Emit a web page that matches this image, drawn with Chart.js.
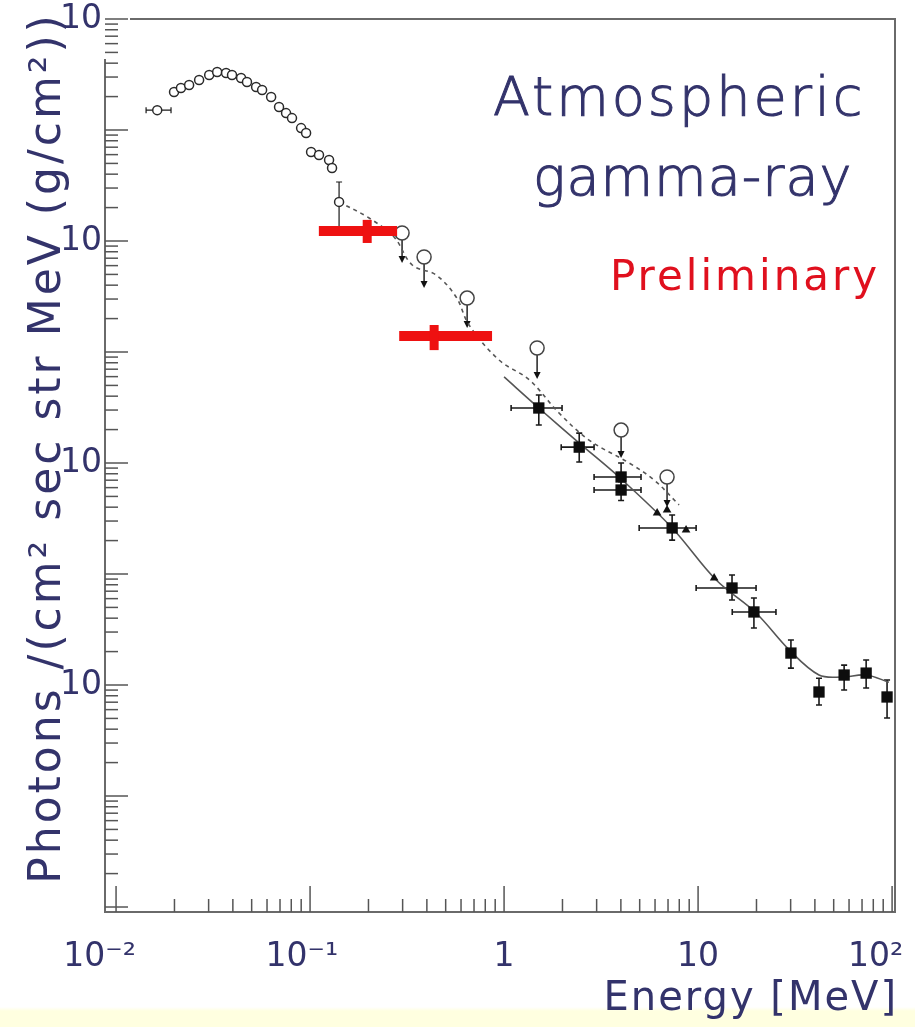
<!DOCTYPE html>
<html>
<head>
<meta charset="utf-8">
<script src="https://cdn.jsdelivr.net/npm/chart.js@4.4.0/dist/chart.umd.min.js"></script>
<style>
  html, body { margin: 0; padding: 0; background: #fff; }
  #wrap { position: relative; width: 915px; height: 1027px;
          background: linear-gradient(to bottom, #fff 0, #fff 1007px, #ffffe0 1011px, #ffffe0 100%); }
  canvas { display: block; }
</style>
</head>
<body>
<div id="wrap"><canvas id="grafico" width="915" height="1027"></canvas></div>
<script>
// ---------- dados ----------
// curva de baixa energia (círculos pequenos)
const lowE = [0.0163, 0.0199, 0.0216, 0.0238, 0.0268, 0.0302, 0.0332, 0.0369, 0.0396, 0.0441, 0.0473, 0.0527,
              0.0566, 0.0630, 0.0692, 0.0752, 0.0807, 0.0899, 0.0954, 0.1012, 0.1112, 0.1253, 0.1298, 0.1411]
const lowF = [1.51, 2.20, 2.39, 2.54, 2.82, 3.13, 3.33, 3.26, 3.13, 2.94, 2.71, 2.44,
              2.29, 1.98, 1.61, 1.42, 1.28, 1.04, 0.94, 0.634, 0.595, 0.537, 0.455, 0.225]
// barras de erro (só os pontos das pontas)
const lowErrE = [[0.01428, 0.0192], null, null, null, null, null, null, null, null, null, null, null,
                 null, null, null, null, null, null, null, null, null, null, null, null]
const lowErrF = [null, null, null, null, null, null, null, null, null, null, null, null,
                 null, null, null, null, null, null, null, null, null, null, null, [0.1205, 0.340]]

// limites superiores (círculos grandes com seta)
const limE = [0.298, 0.387, 0.645, 1.48, 4.01, 6.92]
const limF = [0.118, 0.0718, 0.0306, 0.01086, 1.98e-3, 7.48e-4]
const limArrow = [0.0633, 0.0377, 0.01644, 5.71e-3, 1.11e-3, 4.02e-4]

// pontos preliminares (vermelho)
const redE = [0.197, 0.436]
const redF = [0.123, 0.01394]
const redErrE = [[0.111, 0.281], [0.288, 0.867]]
const redErrF = [[0.096, 0.155], [0.0104, 0.0175]]

// quadrados pretos
const sqE = [1.51, 2.44, 4.01, 4.01, 7.35, 14.96, 19.4, 30.1, 42.0, 56.6, 73.5, 94.2]
const sqF = [3.13e-3, 1.39e-3, 7.48e-4, 5.71e-4, 2.60e-4, 7.48e-5, 4.55e-5, 1.94e-5, 8.65e-6, 1.23e-5, 1.28e-5, 7.80e-6]
const sqErrE = [[1.087, 1.99], [1.97, 2.91], [2.91, 5.08], [2.91, 5.08], [4.97, 9.77], [9.77, 19.9],
                [15.0, 25.2], null, null, null, null, null]
const sqErrF = [[2.20e-3, 4.10e-3], [1.02e-3, 1.86e-3], [6.2e-4, 1.0e-3], [4.6e-4, 6.8e-4], [2.02e-4, 3.40e-4],
                [5.83e-5, 9.80e-5], [3.26e-5, 6.08e-5], [1.42e-5, 2.54e-5], [6.61e-6, 1.15e-5],
                [9.02e-6, 1.51e-5], [9.40e-6, 1.68e-5], [5.04e-6, 1.11e-5]]

// triângulos
const triE = [6.15, 6.92, 8.67, 12.1]
const triF = [3.55e-4, 3.77e-4, 2.49e-4, 9.2e-5]

// curva tracejada e curva contínua
const dashE = [0.1411, 0.2015, 0.271, 0.336, 0.446, 0.566, 0.660, 0.942, 1.35, 1.92, 2.74, 4.41, 5.93, 7.98]
const dashF = [0.225, 0.161, 0.1087, 0.0608, 0.0494, 0.0313, 0.0175, 8.47e-3, 5.60e-3, 2.82e-3, 1.61e-3, 1.0e-3, 7.03e-4, 4.19e-4]
const solE = [1.0, 1.51, 2.44, 3.91, 7.35, 12.4, 19.9, 29.5, 42.0, 55.1, 73.5, 96.3]
const solF = [5.96e-3, 3.13e-3, 1.51e-3, 7.48e-4, 2.60e-4, 8.83e-5, 4.45e-5, 2.07e-5, 1.23e-5, 1.18e-5, 1.23e-5, 1.06e-5]

// eixos (espaços no fim para deslocar o rótulo um pouco para a esquerda, como no original)
const xMajor = [0.01, 0.1, 1, 10, 100]
const xLabels = ['10⁻²\u2002\u2002', '10⁻¹\u2002', '1', '10', '10²\u2002\u2002']
const yMajor = [10, 0.1, 1e-3, 1e-5]
const yLabels = ['10', '10⁻¹', '10⁻³', '10⁻⁵']

const tinta = '#33336b'
const fonte = '"DejaVu Sans", sans-serif'

//*************  helpers  ****************/
function pts(xs, ys){
    return xs.map((x, i) => ({x: x, y: ys[i]}))
}

// todos os ticks 1..9 x 10^k dentro do intervalo
function logTicks(kMin, kMax, lo, hi){
    let out = []
    for(let k = kMin; k <= kMax; k++){
        for(let m = 1; m <= 9; m++){
            let v = m * Math.pow(10, k)
            if(v >= lo * 0.9999 && v <= hi * 1.0001) out.push(v)
        }
    }
    return out
}

function labelFor(v, majors, labels){
    let i = majors.findIndex(m => Math.abs(Math.log10(m) - Math.log10(v)) < 1e-6)
    return i >= 0 ? labels[i] : ''
}

const X_MIN = Math.pow(10, -2.057), X_MAX = Math.pow(10, 2.015)
const Y_MIN = Math.pow(10, -7.045), Y_MAX = 10

//*************  plugin: moldura, ticks para dentro, erros, setas, textos  ****************/
const desenhos = {
    id: 'desenhos',
    beforeDatasetsDraw(chart){
        const ctx = chart.ctx, xs = chart.scales.x, ys = chart.scales.y
        const a = chart.chartArea
        ctx.save()
        // moldura
        ctx.strokeStyle = '#6a6a6a'
        ctx.lineWidth = 2
        ctx.beginPath()
        ctx.moveTo(a.left, a.top + 40); ctx.lineTo(a.left, a.bottom); ctx.lineTo(a.right, a.bottom)
        ctx.lineTo(a.right, a.top); ctx.lineTo(a.left + 25, a.top)
        ctx.stroke()

        // ticks do eixo x (para dentro)
        ctx.lineWidth = 1.5
        ctx.strokeStyle = '#555'
        xs.ticks.forEach(t => {
            let px = xs.getPixelForValue(t.value)
            let major = Math.abs(Math.log10(t.value) - Math.round(Math.log10(t.value))) < 1e-6
            let len = major ? 26 : 13
            ctx.beginPath(); ctx.moveTo(px, a.bottom); ctx.lineTo(px, a.bottom - len); ctx.stroke()
        })
        ys.ticks.forEach(t => {
            let py = ys.getPixelForValue(t.value)
            let major = Math.abs(Math.log10(t.value) - Math.round(Math.log10(t.value))) < 1e-6
            let len = major ? 23 : 13
            ctx.beginPath(); ctx.moveTo(a.left, py); ctx.lineTo(a.left + len, py); ctx.stroke()
        })

        // setas dos limites superiores
        ctx.strokeStyle = '#222'
        ctx.fillStyle = '#111'
        ctx.lineWidth = 1.5
        limE.forEach((e, i) => {
            let px = xs.getPixelForValue(e)
            let py0 = ys.getPixelForValue(limF[i])
            let py1 = ys.getPixelForValue(limArrow[i])
            ctx.beginPath(); ctx.moveTo(px, py0); ctx.lineTo(px, py1 - 4); ctx.stroke()
            ctx.beginPath(); ctx.moveTo(px - 3.5, py1 - 7); ctx.lineTo(px + 3.5, py1 - 7); ctx.lineTo(px, py1); ctx.closePath(); ctx.fill()
        })

        // barras de erro pretas
        function barras(E, F, errE, errF, cap){
            E.forEach((e, i) => {
                let px = xs.getPixelForValue(e), py = ys.getPixelForValue(F[i])
                if(errE[i]){
                    let x0 = xs.getPixelForValue(errE[i][0]), x1 = xs.getPixelForValue(errE[i][1])
                    ctx.beginPath(); ctx.moveTo(x0, py); ctx.lineTo(x1, py)
                    ctx.moveTo(x0, py - cap); ctx.lineTo(x0, py + cap)
                    ctx.moveTo(x1, py - cap); ctx.lineTo(x1, py + cap); ctx.stroke()
                }
                if(errF[i]){
                    let y0 = ys.getPixelForValue(errF[i][0]), y1 = ys.getPixelForValue(errF[i][1])
                    ctx.beginPath(); ctx.moveTo(px, y0); ctx.lineTo(px, y1)
                    ctx.moveTo(px - cap, y0); ctx.lineTo(px + cap, y0)
                    ctx.moveTo(px - cap, y1); ctx.lineTo(px + cap, y1); ctx.stroke()
                }
            })
        }
        ctx.strokeStyle = '#1a1a1a'
        ctx.lineWidth = 1.6
        barras(sqE, sqF, sqErrE, sqErrF, 3)
        ctx.lineWidth = 1.2
        barras(lowE, lowF, lowErrE, lowErrF, 3)
        ctx.restore()
    },
    afterDatasetsDraw(chart){
        const ctx = chart.ctx, xs = chart.scales.x, ys = chart.scales.y
        ctx.save()
        // pontos preliminares vermelhos (barras grossas)
        ctx.strokeStyle = '#ee1111'
        ctx.lineCap = 'butt'
        redE.forEach((e, i) => {
            let px = xs.getPixelForValue(e), py = ys.getPixelForValue(redF[i])
            ctx.lineWidth = 10
            ctx.beginPath()
            ctx.moveTo(xs.getPixelForValue(redErrE[i][0]), py); ctx.lineTo(xs.getPixelForValue(redErrE[i][1]), py)
            ctx.stroke()
            ctx.lineWidth = 9
            ctx.beginPath()
            ctx.moveTo(px, ys.getPixelForValue(redErrF[i][0])); ctx.lineTo(px, ys.getPixelForValue(redErrF[i][1]))
            ctx.stroke()
        })
        ctx.restore()
    },
    afterDraw(chart){
        const ctx = chart.ctx
        ctx.save()
        ctx.fillStyle = tinta
        ctx.strokeStyle = tinta
        ctx.lineWidth = 1
        ctx.textBaseline = 'alphabetic'
        ctx.textAlign = 'left'
        ctx.font = '300 54px ' + fonte
        ctx.letterSpacing = '3px'
        ctx.fillText('Atmospheric', 493, 115)
        ctx.strokeText('Atmospheric', 493, 115)
        ctx.letterSpacing = '1px'
        ctx.fillText('gamma-ray', 533, 195)
        ctx.strokeText('gamma-ray', 533, 195)

        ctx.fillStyle = '#e0101e'
        ctx.font = '42px ' + fonte
        ctx.letterSpacing = '3px'
        ctx.fillText('Preliminary', 610, 290)

        // titulo do eixo x
        ctx.fillStyle = tinta
        ctx.font = '40px ' + fonte
        ctx.letterSpacing = '2px'
        ctx.textAlign = 'right'
        ctx.fillText('Energy [MeV]', 898, 1010)

        // titulo do eixo y (rodado)
        ctx.translate(60, 448)
        ctx.rotate(-Math.PI / 2)
        ctx.textAlign = 'center'
        ctx.font = '44px ' + fonte
        ctx.letterSpacing = '3px'
        ctx.fillText('Photons /(cm² sec str MeV (g/cm²))', 0, 0)
        ctx.restore()
    }
}

//*************  gráfico  ****************/
const GP = document.getElementById('grafico')

new Chart(GP, {
    type: 'scatter',
    data: {
        datasets: [
            {
                label: 'limites',
                data: pts(limE, limF),
                pointStyle: 'circle', pointRadius: 7, borderWidth: 1.5,
                borderColor: '#444', backgroundColor: '#fff', clip: false
            },
            {
                label: 'baixa energia',
                data: pts(lowE, lowF),
                pointStyle: 'circle', pointRadius: 4.5, borderWidth: 1.5,
                borderColor: '#2a2a2a', backgroundColor: '#fff', clip: false
            },
            {
                label: 'quadrados',
                data: pts(sqE, sqF),
                pointStyle: 'rect', pointRadius: 8, borderWidth: 0,
                backgroundColor: '#0d0d0d', borderColor: '#0d0d0d', clip: false
            },
            {
                label: 'triangulos',
                data: pts(triE, triF),
                pointStyle: 'triangle', pointRadius: 5, borderWidth: 0,
                backgroundColor: '#111', borderColor: '#111', clip: false
            },
            {
                label: 'tracejada',
                data: pts(dashE, dashF),
                showLine: true, pointRadius: 0, borderWidth: 1.6,
                borderColor: '#555', borderDash: [4, 4], tension: 0.35
            },
            {
                label: 'continua',
                data: pts(solE, solF),
                showLine: true, pointRadius: 0, borderWidth: 1.6,
                borderColor: '#555', tension: 0.35
            }
        ]
    },
    options: {
        responsive: false,
        animation: false,
        events: [],
        layout: { padding: { left: 60, top: 19, right: 20, bottom: 0 } },
        plugins: { legend: { display: false }, tooltip: { enabled: false } },
        scales: {
            x: {
                type: 'logarithmic',
                min: X_MIN, max: X_MAX,
                grid: { display: false, drawTicks: false },
                border: { display: false },
                afterBuildTicks: s => { s.ticks = logTicks(-2, 2, X_MIN, X_MAX).map(v => ({value: v})) },
                afterFit: s => { s.height = 115; s.paddingLeft = 0; s.paddingRight = 0 },
                ticks: {
                    autoSkip: false, maxRotation: 0, padding: 26,
                    color: tinta, font: { family: fonte, size: 33 },
                    callback: v => labelFor(v, xMajor, xLabels)
                }
            },
            y: {
                type: 'logarithmic',
                min: Y_MIN, max: Y_MAX,
                grid: { display: false, drawTicks: false },
                border: { display: false },
                afterBuildTicks: s => { s.ticks = logTicks(-8, 1, Y_MIN, Y_MAX).map(v => ({value: v})) },
                afterFit: s => { s.width = 45; s.paddingTop = 0; s.paddingBottom = 0 },
                ticks: {
                    autoSkip: false, crossAlign: 'far',
                    color: tinta, font: { family: fonte, size: 33 },
                    callback: v => labelFor(v, yMajor, yLabels)
                }
            }
        }
    },
    plugins: [desenhos]
})
</script>
</body>
</html>
